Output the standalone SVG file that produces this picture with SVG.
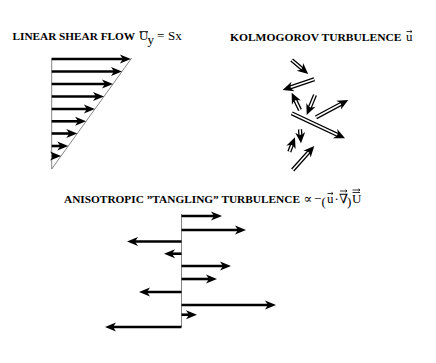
<svg xmlns="http://www.w3.org/2000/svg" width="436" height="363" viewBox="0 0 436 363">
<style>
.hd{font-family:"Liberation Serif","DejaVu Serif",serif;font-weight:bold;font-size:11.3px;fill:#000}
.m{font-family:"Liberation Serif","DejaVu Serif",serif;font-size:13px;fill:#000}
.ax{stroke:#666;stroke-width:0.8;fill:none}
.sh{stroke:#000;stroke-width:2.6;fill:none;marker-end:url(#ah)}
.ko{stroke:#000;stroke-width:4.2;fill:none;marker-end:url(#ahk)}
.ki{stroke:#fff;stroke-width:1.6;fill:none}
.acc{stroke:#000;stroke-width:0.8;fill:none}
</style>
<defs>
<marker id="ah" markerUnits="userSpaceOnUse" markerWidth="12" markerHeight="10" refX="4" refY="4.5" orient="auto" overflow="visible">
<path d="M0,0 L11,4.5 L0,9 L3,4.5 z" fill="#000"/>
</marker>
<marker id="ahk" markerUnits="userSpaceOnUse" markerWidth="14" markerHeight="12" refX="4" refY="5" orient="auto" overflow="visible">
<path d="M0,0 L11,5 L0,10 L3.5,5 z" fill="#000"/>
</marker>
</defs>
<rect width="436" height="363" fill="#fff"/>

<g id="linear-shear-flow">
<text class="hd" x="12.5" y="40" textLength="122.5" lengthAdjust="spacingAndGlyphs">LINEAR SHEAR FLOW</text>
<text class="m" x="139" y="40">U</text>
<line class="acc" x1="139.5" y1="31.5" x2="148" y2="31.5"/>
<text class="m" x="147.5" y="43.5" font-size="9.5">y</text>
<text class="m" x="157" y="40">=</text>
<text class="m" x="168" y="40" font-size="14">Sx</text>
<line class="ax" x1="51.7" y1="58" x2="51.7" y2="169"/>
<line class="ax" x1="51.7" y1="169" x2="131.7" y2="58"/>
<g id="shear-arrows">
<line class="sh" x1="51.7" y1="59" x2="123.9" y2="59"/>
<line class="sh" x1="51.7" y1="71.5" x2="115" y2="71.5"/>
<line class="sh" x1="51.7" y1="84" x2="106" y2="84"/>
<line class="sh" x1="51.7" y1="96.5" x2="97" y2="96.5"/>
<line class="sh" x1="51.7" y1="109" x2="87.9" y2="109"/>
<line class="sh" x1="51.7" y1="121.3" x2="79.1" y2="121.3"/>
<line class="sh" x1="51.7" y1="133.5" x2="70.3" y2="133.5"/>
<line class="sh" x1="51.7" y1="146" x2="61.3" y2="146"/>
<line class="sh" x1="51.7" y1="156" x2="54.1" y2="156"/>
</g>
</g>

<g id="kolmogorov-turbulence">
<text class="hd" x="230" y="41" textLength="171.5" lengthAdjust="spacingAndGlyphs">KOLMOGOROV TURBULENCE</text>
<text class="m" x="406" y="41">u</text>
<path class="acc" d="M406.5,31.5 H412 M410.5,30.3 L412,31.5 L410.5,32.7"/>
<g id="kolmogorov-arrows">
<line class="ko" x1="291.7" y1="60" x2="302.9" y2="69.5"/>
<line class="ki" x1="291.7" y1="60" x2="301.75" y2="68.5"/>
<line class="ko" x1="314.3" y1="79.3" x2="289.3" y2="87.8"/>
<line class="ki" x1="314.3" y1="79.3" x2="290.7" y2="87.3"/>
<line class="ko" x1="300" y1="110" x2="294.7" y2="99"/>
<line class="ki" x1="300" y1="110" x2="295.35" y2="100.35"/>
<line class="ko" x1="315" y1="95" x2="309.4" y2="108.5"/>
<line class="ki" x1="315" y1="95" x2="310" y2="107.1"/>
<line class="ko" x1="316" y1="117.3" x2="342.1" y2="103.3"/>
<line class="ki" x1="316" y1="117.3" x2="340.8" y2="104"/>
<line class="ko" x1="291.7" y1="113.3" x2="338.7" y2="135.3"/>
<line class="ki" x1="291.7" y1="113.3" x2="337.3" y2="134.7"/>
<line class="ko" x1="300" y1="129.3" x2="300.5" y2="136.3"/>
<line class="ki" x1="300" y1="129.3" x2="300.4" y2="134.8"/>
<line class="ko" x1="289.3" y1="151.7" x2="292.4" y2="143.8"/>
<line class="ki" x1="289.3" y1="151.7" x2="291.85" y2="145.2"/>
<line class="ko" x1="292.7" y1="170" x2="309.6" y2="151.2"/>
<line class="ki" x1="292.7" y1="170" x2="308.6" y2="152.3"/>
</g>
</g>

<g id="anisotropic-turbulence">
<text class="hd" x="64" y="203" textLength="236" lengthAdjust="spacingAndGlyphs">ANISOTROPIC ”TANGLING” TURBULENCE</text>
<text class="m" x="303.5" y="203">∝</text>
<text class="m" x="314" y="203" font-size="11">−</text>
<text class="m" x="321.5" y="205.5" font-size="22">(</text>
<text class="m" x="327" y="203">u</text>
<path class="acc" d="M327.5,193.5 H333 M331.5,192.3 L333,193.5 L331.5,194.7"/>
<text class="m" x="334.5" y="203">·</text>
<text class="m" x="339" y="203">∇</text>
<path class="acc" d="M340,191 H347 M345.5,189.8 L347,191 L345.5,192.2"/>
<text class="m" x="347" y="205.5" font-size="22">)</text>
<text class="m" x="352" y="203">U</text>
<path class="acc" d="M352.5,192.5 H360 M352.5,190 H360 M358.5,188.8 L360,190 L358.5,191.2"/>
<line class="ax" x1="181.5" y1="214" x2="181.5" y2="327"/>
<g id="tangling-arrows">
<line class="sh" x1="181.5" y1="216" x2="215" y2="216"/>
<line class="sh" x1="181.5" y1="230" x2="239" y2="230"/>
<line class="sh" x1="181.5" y1="241.5" x2="134" y2="241.5"/>
<line class="sh" x1="181.5" y1="253.7" x2="171" y2="253.7"/>
<line class="sh" x1="181.5" y1="266" x2="224" y2="266"/>
<line class="sh" x1="181.5" y1="279" x2="210" y2="279"/>
<line class="sh" x1="181.5" y1="292" x2="146" y2="292"/>
<line class="sh" x1="181.5" y1="305" x2="269" y2="305"/>
<line class="sh" x1="181.5" y1="314.7" x2="190" y2="314.7"/>
<line class="sh" x1="181.5" y1="327" x2="112" y2="327"/>
</g>
</g>
</svg>
